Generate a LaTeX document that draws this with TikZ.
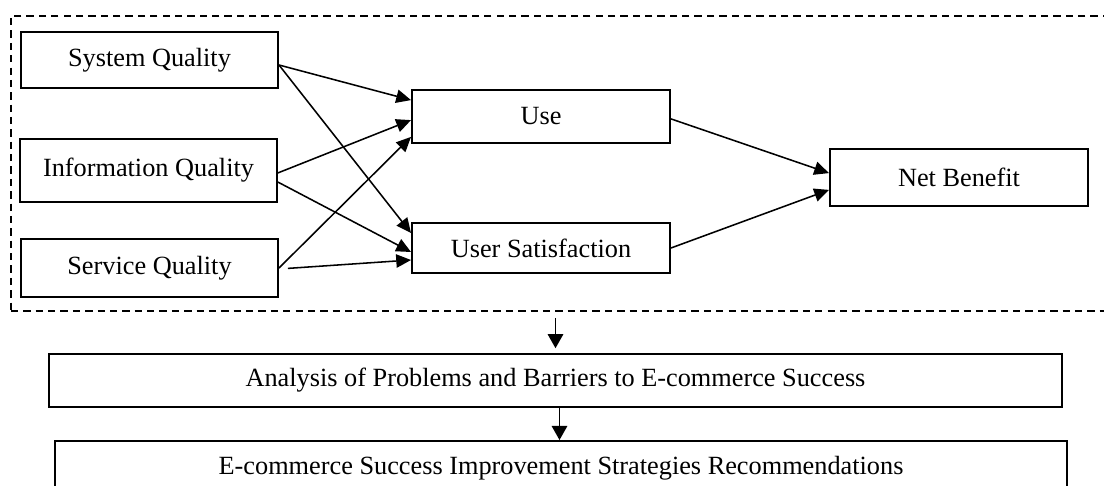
\documentclass[tikz,border=0pt]{standalone}
\usepackage{fontspec}
\setmainfont{Liberation Serif}
\usepackage{tikz}
\usetikzlibrary{positioning,arrows.meta}

\begin{document}
\begin{tikzpicture}[
    box/.style={draw, line width=1.4pt, minimum width=6.45cm, inner sep=0pt, fill=white, font=\fontsize{18.7pt}{22pt}\selectfont},
    widebox/.style={draw, line width=1.4pt, inner sep=0pt, font=\fontsize{18.7pt}{22pt}\selectfont},
    frame/.style={draw, line width=1.1pt, dash pattern=on 5.2pt off 3.6pt, inner sep=0pt},
    connector/.style={-{Triangle[length=10.5pt, width=9.5pt]}, line width=1.1pt},
    downarrow/.style={-{Triangle[length=10pt, width=11pt]}, line width=1.1pt}
]
\useasboundingbox (0,0) rectangle (27.6,-12.125);

% Dashed frame around the success model
\node[frame, minimum width=27.525cm, minimum height=7.375cm] (model) at (14.0375,-4.0875) {};

% Quality dimensions (left column)
\node[box, minimum width=6.425cm, minimum height=1.4cm] (sysq) at (3.7375,-1.5) {System Quality};
\node[box, minimum width=6.425cm, minimum height=1.575cm] (infoq) at (3.7125,-4.2625) {Information Quality};
\node[box, minimum width=6.425cm, minimum height=1.45cm] (servq) at (3.7375,-6.7) {Service Quality};

% Use and satisfaction (middle column)
\node[box, minimum height=1.325cm] (use) at (13.525,-2.9125) {Use};
\node[box, minimum height=1.25cm] (usat) at (13.525,-6.2) {User Satisfaction};

% Outcome
\node[box, minimum height=1.425cm] (netb) at (23.975,-4.4375) {Net Benefit};

% Analysis and recommendations below the frame
\node[widebox, minimum width=25.325cm, minimum height=1.325cm] (analysis) at (13.8875,-9.5125) {Analysis of Problems and Barriers to E-commerce Success};
\node[widebox, minimum width=25.3cm, minimum height=1.35cm] (recom) at (14.025,-11.7) {E-commerce Success Improvement Strategies Recommendations};

% Quality -> use / satisfaction
\draw[connector] ([yshift=-0.125cm]sysq.east) -- ([yshift=0.41cm]use.west);
\draw[connector] ([yshift=-0.125cm]sysq.east) -- ([yshift=0.375cm]usat.west);
\draw[connector] ([yshift=-0.06cm]infoq.east) -- ([yshift=-0.09cm]use.west);
\draw[connector] ([yshift=-0.29cm]infoq.east) -- ([yshift=-0.1cm]usat.west);
\draw[connector] (servq.east) -- ([yshift=-0.51cm]use.west);
\draw[connector, shorten <=0.225cm] ([yshift=-0.025cm]servq.east) -- ([yshift=-0.3cm]usat.west);

% Use / satisfaction -> net benefit
\draw[connector] ([yshift=-0.06cm]use.east) -- ([yshift=0.11cm]netb.west);
\draw[connector] (usat.east) -- ([yshift=-0.31cm]netb.west);

% Downward flow
\draw[downarrow, shorten <=0.15cm, shorten >=0.12cm] (model.south -| analysis.north) -- (analysis.north);
\draw[downarrow] ([xshift=0.1cm]analysis.south) -- ([xshift=0.1cm]analysis.south |- recom.north);

\end{tikzpicture}
\end{document}
